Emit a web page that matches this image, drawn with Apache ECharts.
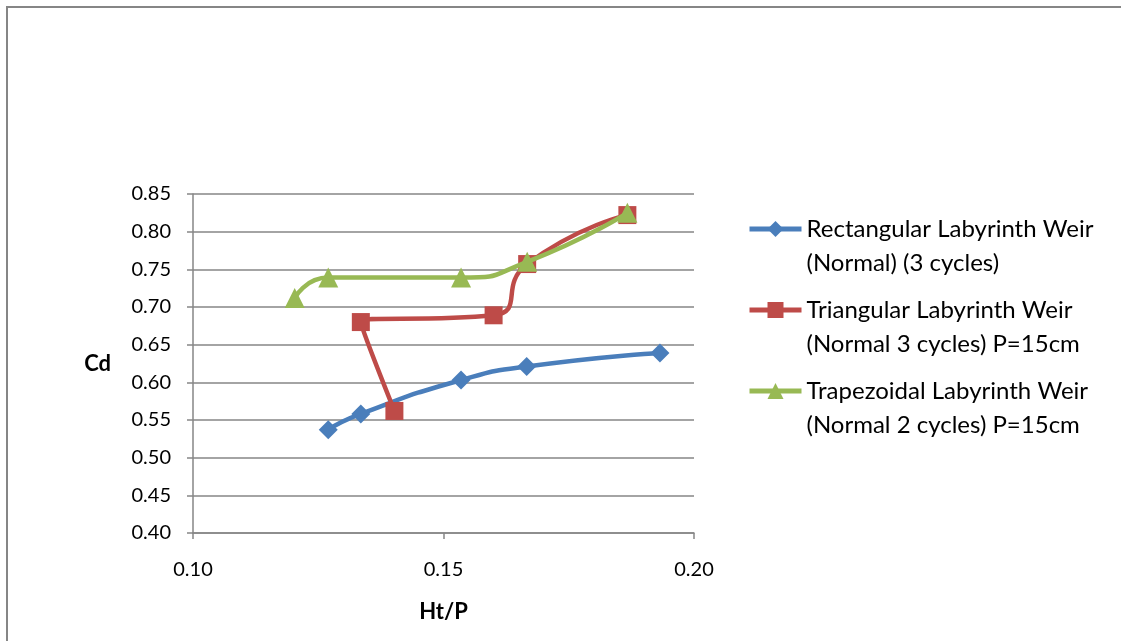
<!DOCTYPE html>
<html>
<head>
<meta charset="utf-8">
<script src="https://cdn.jsdelivr.net/npm/echarts@6/dist/echarts.min.js"></script>
<style>
  html, body { margin: 0; padding: 0; background: #fff; }
  #chart { width: 1121px; height: 641px; }
</style>
</head>
<body>
<div id="chart"></div>
<script>
// Discharge coefficient Cd against head ratio Ht/P for three labyrinth weir shapes
const seriesNames = [
  'Rectangular Labyrinth Weir\n(Normal) (3 cycles)',
  'Triangular Labyrinth Weir\n(Normal 3 cycles) P=15cm',
  'Trapezoidal Labyrinth Weir\n(Normal 2 cycles) P=15cm'
];
const rectHtP = [0.127, 0.1335, 0.1535, 0.1666, 0.1932];
const rectCd  = [0.537, 0.558, 0.603, 0.621, 0.639];
const triHtP  = [0.1402, 0.1335, 0.1600, 0.1667, 0.1867];
const triCd   = [0.562, 0.680, 0.689, 0.757, 0.822];
const trapHtP = [0.1203, 0.1270, 0.1535, 0.1667, 0.1867];
const trapCd  = [0.712, 0.739, 0.739, 0.760, 0.825];
const xTicks = [0.10, 0.15, 0.20];
const yTicks = [0.40, 0.45, 0.50, 0.55, 0.60, 0.65, 0.70, 0.75, 0.80, 0.85];

const colors = ['#4A7EBB', '#BE4B48', '#98B954'];
const symbols = ['diamond', 'rect', 'triangle'];
const symbolSizes = [19, 18, 20];
const font = 'Lato, "Open Sans", sans-serif';

const pairs = (xs, ys) => xs.map((x, i) => [x, ys[i]]);
const allData = [pairs(rectHtP, rectCd), pairs(triHtP, triCd), pairs(trapHtP, trapCd)];

const chart = echarts.init(document.getElementById('chart'), null, { renderer: 'canvas' });
chart.setOption({
  animation: false,
  backgroundColor: '#fff',
  color: colors,
  grid: { left: 193, right: 427, top: 194, bottom: 108, containLabel: false },
  xAxis: {
    type: 'value',
    min: xTicks[0], max: xTicks[xTicks.length - 1], interval: 0.05,
    name: 'Ht/P', nameLocation: 'middle', nameGap: 68,
    nameTextStyle: { fontFamily: font, fontSize: 22, fontWeight: 'bold', color: '#000' },
    axisLine: { lineStyle: { color: '#868686', width: 1.5 } },
    axisTick: { show: true, length: 6, lineStyle: { color: '#868686', width: 1.5 } },
    axisLabel: { margin: 27, fontFamily: font, fontSize: 20, color: '#000',
      formatter: v => v.toFixed(2) },
    splitLine: { show: false }
  },
  yAxis: {
    type: 'value',
    min: yTicks[0], max: yTicks[yTicks.length - 1], interval: 0.05,
    name: 'Cd', nameLocation: 'middle', nameGap: 82, nameRotate: 0,
    nameTextStyle: { fontFamily: font, fontSize: 22, fontWeight: 'bold', color: '#000' },
    axisLine: { show: true, lineStyle: { color: '#868686', width: 1.5 } },
    axisTick: { show: true, length: 6, lineStyle: { color: '#868686', width: 1.5 } },
    axisLabel: { margin: 22, fontFamily: font, fontSize: 20, color: '#000',
      formatter: v => v.toFixed(2) },
    splitLine: { show: true, lineStyle: { color: '#868686', width: 1.5 } }
  },
  legend: {
    orient: 'vertical',
    left: 742, top: 173,
    itemWidth: 52, itemHeight: 20, itemGap: -21,
    lineStyle: { width: 5 },
    // a blank leading line keeps the icon level with the first line of each name
    formatter: name => '\n' + name,
    textStyle: { fontFamily: font, fontSize: 24, color: '#000', lineHeight: 34 },
    data: seriesNames
  },
  graphic: [{
    type: 'rect', silent: true,
    shape: { x: 7, y: 7, width: 1300, height: 800 },
    style: { fill: 'none', stroke: '#868686', lineWidth: 2 }
  }],
  series: seriesNames.map((name, i) => ({
    name: name,
    type: 'line',
    data: allData[i],
    smooth: 0.6,
    symbol: symbols[i],
    symbolSize: symbolSizes[i],
    showAllSymbol: true,
    lineStyle: { width: 4.5, color: colors[i] },
    itemStyle: { color: colors[i] },
    z: 2 + (i === 2 ? 1 : 0)
  }))
});
</script>
</body>
</html>
